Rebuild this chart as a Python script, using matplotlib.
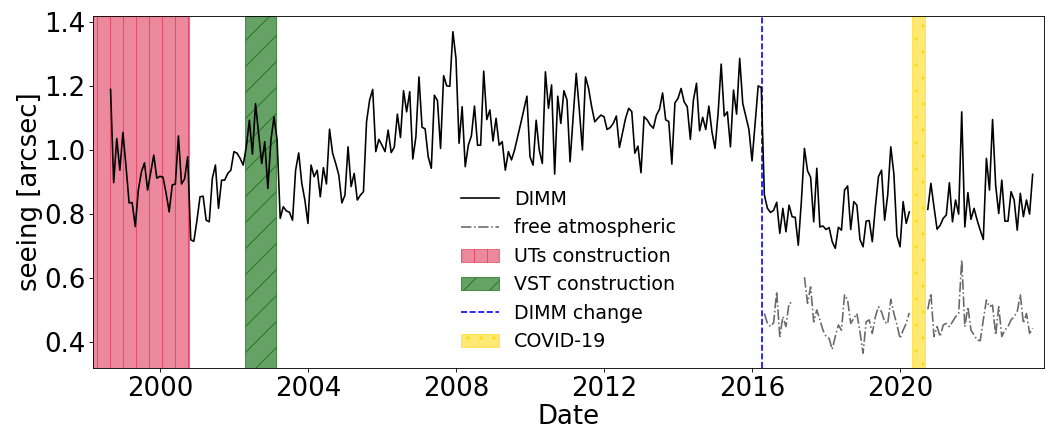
import numpy as np
import matplotlib
matplotlib.use("Agg")
import matplotlib.pyplot as plt

# Monthly median seeing from the DIMM, starting September 1998
dimm_start = 1998 + 8 / 12
dimm_seeing = [
    1.189, 0.898, 1.036, 0.937, 1.055, 0.950, 0.835, 0.836, 0.761, 0.875,
    0.932, 0.960, 0.875, 0.930, 0.984, 0.912, 0.918, 0.915, 0.865, 0.807,
    0.891, 0.894, 1.044, 0.894, 0.910, 0.979, 0.720, 0.715, 0.780, 0.854,
    0.856, 0.781, 0.776, 0.912, 0.953, 0.818, 0.906, 0.906, 0.927, 0.937,
    0.995, 0.990, 0.974, 0.953, 1.010, 1.093, 0.987, 1.145, 1.052, 0.958,
    1.026, 0.880, 1.031, 1.104, 1.031, 0.787, 0.823, 0.810, 0.806, 0.781,
    0.937, 0.991, 0.896, 0.844, 0.771, 0.953, 0.917, 0.937, 0.854, 0.945,
    0.894, 1.065, 0.990, 0.958, 0.922, 0.835, 0.859, 1.010, 0.886, 0.927,
    0.844, 0.859, 0.870, 1.088, 1.156, 1.189, 0.995, 1.033, 1.015, 0.995,
    1.062, 0.992, 1.009, 1.112, 1.039, 1.185, 1.119, 1.182, 0.972, 1.041,
    1.228, 1.071, 1.066, 0.979, 0.943, 1.171, 1.154, 1.005, 1.232, 1.200,
    1.199, 1.369, 1.286, 1.021, 1.135, 0.948, 1.015, 1.044, 1.137, 1.015,
    1.015, 1.246, 1.095, 1.125, 1.028, 1.099, 1.015, 1.026, 0.937, 0.995,
    0.969, 1.000, 1.041, 1.083, 1.125, 1.168, 0.979, 0.953, 1.093, 1.000,
    0.958, 1.244, 1.130, 1.203, 0.925, 1.168, 1.083, 1.185, 1.156, 0.963,
    1.104, 1.239, 1.125, 1.000, 1.228, 1.192, 1.135, 1.088, 1.099, 1.109,
    1.104, 1.064, 1.070, 1.083, 1.106, 1.008, 1.054, 1.099, 1.130, 1.120,
    0.990, 1.012, 0.929, 1.104, 1.094, 1.078, 1.068, 1.109, 1.127, 1.178,
    1.094, 1.089, 0.956, 1.147, 1.161, 1.192, 1.150, 1.135, 1.033, 1.156,
    1.208, 1.060, 1.102, 1.064, 1.137, 1.057, 1.005, 1.115, 1.268, 1.106,
    1.119, 1.010, 1.187, 1.112, 1.286, 1.145, 1.104, 1.064, 0.966, 1.083,
    1.200, 1.195, 0.860, 0.818, 0.805, 0.812, 0.837, 0.740, 0.818, 0.745,
    0.828, 0.792, 0.790, 0.703, 0.840, 1.005, 0.935, 0.915, 0.776, 0.943,
    0.760, 0.763, 0.752, 0.758, 0.714, 0.693, 0.759, 0.750, 0.875, 0.888,
    0.752, 0.839, 0.828, 0.721, 0.698, 0.778, 0.780, 0.714, 0.823, 0.917,
    0.937, 0.781, 0.860, 1.010, 0.925, 0.732, 0.698, 0.839, 0.771, 0.807,
    np.nan, np.nan, np.nan, np.nan, np.nan, 0.815, 0.896, 0.823, 0.753, 0.765,
    0.787, 0.797, 0.898, 0.776, 0.844, 0.800, 1.119, 0.760, 0.867, 0.784,
    0.818, 0.781, 0.750, 0.721, 0.974, 0.875, 1.095, 0.890, 0.802, 0.906,
    0.778, 0.778, 0.870, 0.844, 0.750, 0.865, 0.792, 0.844, 0.800, 0.924,
]

# Free-atmosphere seeing (MASS), available from May 2016
free_start = 1998 + 8 / 12 + 212 / 12
free_atm_seeing = [
    0.490, 0.459, 0.449, 0.461, 0.558, 0.418, 0.480, 0.449, 0.522, 0.524,
    np.nan, np.nan, np.nan, 0.603, 0.522, 0.573, 0.464, 0.501,
    0.470, 0.438, 0.418, 0.412, 0.378, 0.418, 0.454, 0.438, 0.548, 0.532,
    0.459, 0.475, 0.490, 0.433, 0.366, 0.464, 0.470, 0.428, 0.480, 0.511,
    0.495, 0.464, 0.458, 0.534, 0.490, 0.455, 0.412, 0.438, 0.459, 0.492,
    np.nan, np.nan, np.nan, np.nan, np.nan, 0.503, 0.553, 0.418, 0.449, 0.418,
    0.454, 0.459, 0.449, 0.464, 0.480, 0.490, 0.657, 0.449, 0.511, 0.438,
    0.423, 0.407, 0.405, 0.470, 0.532, 0.511, 0.516, 0.423, 0.511, 0.418,
    0.438, 0.449, 0.470, 0.480, 0.496, 0.548, 0.459, 0.490, 0.428, 0.444,
]

# Periods of interest (decimal years)
uts_period = (1998.0, 2000.78)
vst_period = (2002.30, 2003.13)
dimm_change = 2016.26
covid_period = (2020.33, 2020.67)

year_ticks = [2000, 2004, 2008, 2012, 2016, 2020]

dimm_t = dimm_start + np.arange(len(dimm_seeing)) / 12
free_t = free_start + np.arange(len(free_atm_seeing)) / 12

DPI = 78
fig = plt.figure(figsize=(1052 / DPI, 428 / DPI), dpi=DPI)
ax = fig.add_axes([0.0887, 0.1395, 0.9037, 0.8238])

ax.plot(dimm_t, dimm_seeing, color="black", lw=1.5, label="DIMM", zorder=3)
ax.plot(free_t, free_atm_seeing, color="dimgray", lw=1.5, ls="-.",
        label="free atmospheric", zorder=3)
ax.axvspan(*uts_period, facecolor="crimson", edgecolor="crimson", alpha=0.5,
           hatch="|", label="UTs construction", zorder=1)
ax.axvspan(*vst_period, facecolor="darkgreen", edgecolor="darkgreen", alpha=0.6,
           hatch="/", label="VST construction", zorder=1)
ax.axvline(dimm_change, color="blue", ls="--", lw=1.5, label="DIMM change", zorder=2)
ax.axvspan(*covid_period, facecolor="gold", edgecolor="gold", alpha=0.55,
           hatch=".", label="COVID-19", zorder=1)

ax.set_xlim(1998.2, 2023.89)
ax.set_ylim(0.319, 1.419)
ax.set_xticks(year_ticks)
ax.set_xticklabels([str(y) for y in year_ticks])
ax.set_yticks([0.4, 0.6, 0.8, 1.0, 1.2, 1.4])
ax.tick_params(labelsize=24)
ax.set_xlabel("Date", fontsize=24, labelpad=2)
ax.set_ylabel("seeing [arcsec]", fontsize=24, labelpad=1)

ax.legend(loc="lower center", frameon=False, fontsize=17.5)

fig.savefig("out.png", dpi=DPI)
